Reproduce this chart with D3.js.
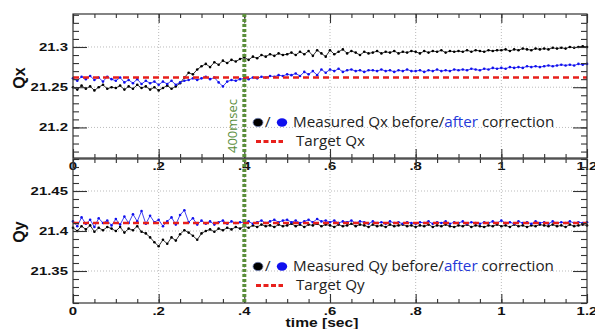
<!DOCTYPE html>
<html>
<head>
<meta charset="utf-8">
<script src="https://cdn.jsdelivr.net/npm/d3@7"></script>
<style>
  body { margin: 0; background: #fff; }
  svg { display: block; }
</style>
</head>
<body>
<svg id="chart" width="595" height="329"></svg>
<script>
// sampling step of the measurements (sec)
const tStep = 0.01;

// Qx, before / after correction (one value per 10 msec)
const qxBefore = [
  21.250, 21.247, 21.252, 21.248, 21.251, 21.246, 21.250, 21.253, 21.248, 21.250,
  21.249, 21.252, 21.247, 21.251, 21.248, 21.253, 21.249, 21.251, 21.247, 21.250,
  21.246, 21.249, 21.252, 21.248, 21.251, 21.255, 21.262, 21.268, 21.266, 21.272,
  21.276, 21.279, 21.275, 21.281, 21.278, 21.283, 21.280, 21.284, 21.282, 21.285,
  21.287, 21.284, 21.288, 21.286, 21.290, 21.288, 21.291, 21.289, 21.292, 21.290,
  21.291, 21.293, 21.290, 21.294, 21.291, 21.295, 21.289, 21.296, 21.292, 21.288,
  21.296, 21.291, 21.294, 21.297, 21.292, 21.295, 21.293, 21.290, 21.294, 21.292,
  21.293, 21.295, 21.292, 21.294, 21.293, 21.295, 21.292, 21.294, 21.293, 21.295,
  21.294, 21.292, 21.295, 21.293, 21.295, 21.294, 21.296, 21.293, 21.295, 21.294,
  21.295, 21.294, 21.296, 21.294, 21.296, 21.295, 21.294, 21.296, 21.295, 21.296,
  21.296, 21.297, 21.295, 21.297, 21.296, 21.298, 21.297, 21.296, 21.298, 21.297,
  21.298, 21.297, 21.299, 21.298, 21.299, 21.298, 21.300, 21.299, 21.300, 21.301,
  21.300
];
const qxAfter = [
  21.261, 21.258, 21.263, 21.260, 21.264, 21.259, 21.262, 21.257, 21.263, 21.260,
  21.258, 21.262, 21.256, 21.259, 21.255, 21.260, 21.254, 21.258, 21.255, 21.257,
  21.253, 21.257, 21.254, 21.258, 21.253, 21.256, 21.258, 21.259, 21.261, 21.259,
  21.261, 21.263, 21.260, 21.262, 21.256, 21.251, 21.257, 21.259, 21.258, 21.260,
  21.261, 21.260, 21.262, 21.261, 21.263, 21.262, 21.264, 21.263, 21.265, 21.264,
  21.266, 21.265, 21.267, 21.264, 21.269, 21.266, 21.270, 21.265, 21.272, 21.268,
  21.272, 21.270, 21.273, 21.269, 21.271, 21.272, 21.270, 21.271, 21.269, 21.271,
  21.271, 21.270, 21.272, 21.270, 21.271, 21.269, 21.271, 21.270, 21.272, 21.270,
  21.270, 21.271, 21.269, 21.271, 21.270, 21.272, 21.270, 21.271, 21.270, 21.272,
  21.271, 21.272, 21.271, 21.273, 21.272, 21.271, 21.273, 21.272, 21.274, 21.273,
  21.274, 21.273, 21.275, 21.274, 21.275, 21.274, 21.276, 21.275, 21.276, 21.275,
  21.276, 21.277, 21.276, 21.277, 21.278, 21.277, 21.278, 21.277, 21.279, 21.278,
  21.279
];

// Qy, before / after correction
const qyBefore = [
  21.404, 21.400, 21.406, 21.402, 21.407, 21.399, 21.404, 21.401, 21.405, 21.403,
  21.400, 21.405, 21.398, 21.403, 21.401, 21.406, 21.399, 21.397, 21.392, 21.386,
  21.381, 21.389, 21.384, 21.392, 21.388, 21.396, 21.401, 21.398, 21.394, 21.389,
  21.397, 21.400, 21.402, 21.399, 21.403, 21.401, 21.404, 21.402, 21.405, 21.403,
  21.406, 21.404, 21.407, 21.405, 21.408, 21.406, 21.407, 21.405, 21.408, 21.406,
  21.407, 21.409, 21.406, 21.408, 21.405, 21.408, 21.407, 21.409, 21.406, 21.408,
  21.407, 21.405, 21.408, 21.406, 21.407, 21.409, 21.406, 21.408, 21.407, 21.405,
  21.408, 21.406, 21.407, 21.405, 21.408, 21.406, 21.407, 21.408, 21.406, 21.407,
  21.405, 21.407, 21.406, 21.408, 21.405, 21.407, 21.406, 21.408, 21.406, 21.405,
  21.407, 21.406, 21.408, 21.405, 21.407, 21.406, 21.405, 21.407, 21.406, 21.408,
  21.406, 21.407, 21.405, 21.408, 21.406, 21.407, 21.405, 21.407, 21.406, 21.408,
  21.407, 21.406, 21.408, 21.406, 21.407, 21.405, 21.408, 21.406, 21.407, 21.408,
  21.407
];
const qyAfter = [
  21.412, 21.406, 21.417, 21.409, 21.414, 21.405, 21.416, 21.410, 21.413, 21.407,
  21.415, 21.408, 21.418, 21.410, 21.421, 21.412, 21.425, 21.409, 21.419, 21.411,
  21.414, 21.406, 21.412, 21.417, 21.408, 21.420, 21.426, 21.411, 21.416, 21.408,
  21.413, 21.409, 21.412, 21.408, 21.411, 21.413, 21.409, 21.412, 21.410, 21.411,
  21.410, 21.412, 21.409, 21.411, 21.413, 21.410, 21.412, 21.414, 21.411, 21.413,
  21.414, 21.411, 21.413, 21.410, 21.412, 21.414, 21.411, 21.415, 21.412, 21.413,
  21.411, 21.413, 21.410, 21.412, 21.411, 21.413, 21.410, 21.412, 21.411, 21.409,
  21.412, 21.410, 21.411, 21.409, 21.412, 21.410, 21.411, 21.409, 21.411, 21.410,
  21.409, 21.411, 21.410, 21.412, 21.409, 21.411, 21.410, 21.412, 21.409, 21.411,
  21.410, 21.412, 21.409, 21.411, 21.410, 21.409, 21.411, 21.410, 21.412, 21.410,
  21.413, 21.410, 21.411, 21.409, 21.412, 21.410, 21.411, 21.409, 21.412, 21.410,
  21.411, 21.409, 21.412, 21.410, 21.411, 21.410, 21.412, 21.410, 21.411, 21.410,
  21.411
];

const qxTarget = 21.262;
const qyTarget = 21.41;
const markTime = 0.4;

const xTicks = [0, 0.2, 0.4, 0.6, 0.8, 1, 1.2];
const xTickLabels = ['0', '.2', '.4', '.6', '.8', '1', '1.2'];
const qxTicks = [21.2, 21.25, 21.3];
const qxTickLabels = ['21.2', '21.25', '21.3'];
const qyTicks = [21.35, 21.4, 21.45];
const qyTickLabels = ['21.35', '21.4', '21.45'];

const svg = d3.select('#chart');
const x = d3.scaleLinear().domain([0, 1.2]).range([73, 587]);

const boldFont = '"Liberation Sans", Arial, sans-serif';
const legendFont = '"Open Sans", sans-serif';
const stretch = 1.3; // tick labels look horizontally stretched in the original

function stretchedText(g, px, py, txt, anchor, size) {
  g.append('text')
    .attr('transform', `translate(${px},${py}) scale(${stretch},1)`)
    .attr('text-anchor', anchor)
    .attr('font-family', boldFont)
    .attr('font-weight', 'bold')
    .attr('font-size', size)
    .attr('fill', '#111')
    .text(txt);
}

function drawPanel(p) {
  const y = d3.scaleLinear().domain(p.domain).range([p.bottom, p.top]);
  const g = svg.append('g');

  // dotted grid
  g.selectAll('.gx').data(xTicks.slice(1, -1)).join('line')
    .attr('x1', d => x(d)).attr('x2', d => x(d))
    .attr('y1', p.top).attr('y2', p.bottom)
    .attr('stroke', '#bbb').attr('stroke-dasharray', '1,2');
  g.selectAll('.gy').data(p.yTicks).join('line')
    .attr('x1', x(0)).attr('x2', x(1.2))
    .attr('y1', d => y(d)).attr('y2', d => y(d))
    .attr('stroke', '#bbb').attr('stroke-dasharray', '1,2');

  // measurements
  const line = d3.line().x((d, i) => x(i * tStep)).y(d => y(d));
  [[p.before, '#000'], [p.after, '#1010ee']].forEach(([vals, col]) => {
    g.append('path').datum(vals)
      .attr('fill', 'none').attr('stroke', col).attr('stroke-width', 0.8)
      .attr('d', line);
    g.append('g').selectAll('circle').data(vals).join('circle')
      .attr('cx', (d, i) => x(i * tStep)).attr('cy', d => y(d))
      .attr('r', 1.3).attr('fill', col);
  });

  // target
  g.append('line')
    .attr('x1', x(0)).attr('x2', x(1.2))
    .attr('y1', y(p.target)).attr('y2', y(p.target))
    .attr('stroke', '#e8201c').attr('stroke-width', 2.6)
    .attr('stroke-dasharray', '6,4');

  // frame with inward ticks
  g.append('rect')
    .attr('x', x(0)).attr('y', p.top)
    .attr('width', x(1.2) - x(0)).attr('height', p.bottom - p.top)
    .attr('fill', 'none').attr('stroke', '#333').attr('stroke-width', 1.2);

  const ax = [
    [d3.axisBottom(x), `translate(0,${p.bottom})`],
    [d3.axisTop(x), `translate(0,${p.top})`]
  ];
  ax.forEach(([a, tr]) => {
    g.append('g').attr('transform', tr)
      .call(a.tickValues(xTicks).tickSize(-9).tickFormat(''))
      .call(s => s.select('.domain').remove());
    g.append('g').attr('transform', tr)
      .call(a.tickValues(x.ticks(24)).tickSize(-4).tickFormat(''))
      .call(s => s.select('.domain').remove());
  });
  const ay = [
    [d3.axisLeft(y), `translate(${x(0)},0)`],
    [d3.axisRight(y), `translate(${x(1.2)},0)`]
  ];
  ay.forEach(([a, tr]) => {
    g.append('g').attr('transform', tr)
      .call(a.tickValues(p.yTicks).tickSize(-14).tickFormat(''))
      .call(s => s.select('.domain').remove());
    g.append('g').attr('transform', tr)
      .call(a.tickValues(y.ticks(18)).tickSize(-6).tickFormat(''))
      .call(s => s.select('.domain').remove());
  });
  g.selectAll('.tick line').attr('stroke', '#333').attr('stroke-width', 1.1);

  // tick labels
  xTicks.forEach((t, i) => stretchedText(g, x(t), p.bottom + 11.5, xTickLabels[i], 'middle', 11.5));
  p.yTicks.forEach((t, i) => stretchedText(g, x(0) - 5, y(t) + 4, p.yLabels[i], 'end', 11.5));

  // axis title
  g.append('text')
    .attr('transform', `translate(25,${p.titleY}) rotate(-90)`)
    .attr('text-anchor', 'middle')
    .attr('font-family', boldFont).attr('font-weight', 'bold')
    .attr('font-size', 16).attr('fill', '#111')
    .text(p.title);

  // legend
  const lg = g.append('g').attr('font-family', legendFont).attr('font-size', 15.2);
  lg.append('ellipse').attr('cx', 258).attr('cy', p.legY - 4.5)
    .attr('rx', 5).attr('ry', 4.2).attr('fill', '#000').attr('stroke', '#7788bb').attr('stroke-width', 0.8);
  lg.append('text').attr('x', 265).attr('y', p.legY).attr('fill', '#222').text('/');
  lg.append('ellipse').attr('cx', 282).attr('cy', p.legY - 4.5)
    .attr('rx', 5.2).attr('ry', 4.2).attr('fill', '#1010ee');
  const t1 = lg.append('text').attr('x', 293).attr('y', p.legY).attr('fill', '#222');
  t1.append('tspan').text(`Measured ${p.title} before/`);
  t1.append('tspan').attr('fill', '#2538d8').text('after');
  t1.append('tspan').text(' correction');
  lg.append('line')
    .attr('x1', 256).attr('x2', 283).attr('y1', p.legY + 14.5).attr('y2', p.legY + 14.5)
    .attr('stroke', '#e8201c').attr('stroke-width', 3).attr('stroke-dasharray', '5,2.5');
  lg.append('text').attr('x', 296).attr('y', p.legY + 18.5).attr('fill', '#222')
    .text(`Target ${p.title}`);

  return y;
}

drawPanel({
  top: 14, bottom: 158, domain: [21.162, 21.341],
  yTicks: qxTicks, yLabels: qxTickLabels,
  before: qxBefore, after: qxAfter, target: qxTarget,
  title: 'Qx', titleY: 78, legY: 127
});
drawPanel({
  top: 159, bottom: 303, domain: [21.31, 21.49],
  yTicks: qyTicks, yLabels: qyTickLabels,
  before: qyBefore, after: qyAfter, target: qyTarget,
  title: 'Qy', titleY: 232, legY: 271
});

// 400 msec marker
svg.append('line')
  .attr('x1', x(markTime)).attr('x2', x(markTime))
  .attr('y1', 14).attr('y2', 303)
  .attr('stroke', '#5a8e3a').attr('stroke-width', 4)
  .attr('stroke-dasharray', '3,2');
svg.append('text')
  .attr('transform', `translate(${x(markTime) - 7},126) rotate(-90)`)
  .attr('text-anchor', 'middle')
  .attr('font-family', legendFont).attr('font-size', 13)
  .attr('fill', '#5a8e3a')
  .text('400msec');

// x axis title
svg.append('text')
  .attr('transform', `translate(322,326.5) scale(${stretch},1)`)
  .attr('text-anchor', 'middle')
  .attr('font-family', boldFont).attr('font-weight', 'bold')
  .attr('font-size', 12).attr('fill', '#111')
  .text('time [sec]');
</script>
</body>
</html>
